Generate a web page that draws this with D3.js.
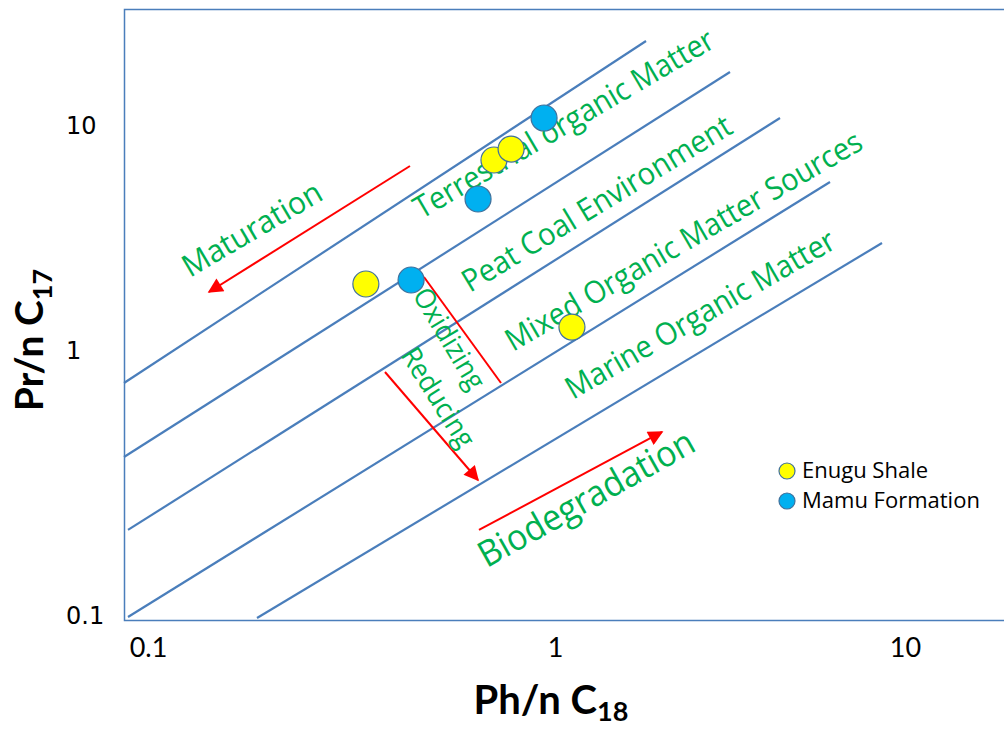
<!DOCTYPE html>
<html>
<head>
<meta charset="utf-8">
<script src="https://cdn.jsdelivr.net/npm/d3@7"></script>
<style>
  html, body { margin: 0; padding: 0; background: #ffffff; }
  svg { display: block; }
</style>
</head>
<body>
<svg id="chart" width="1004" height="729"></svg>
<script>
// Pristane/n-C17 versus Phytane/n-C18 source and environment diagram

// axis ticks (both axes are logarithmic)
const xTicks = [0.1, 1, 10];
const yTicks = [0.1, 1, 10];

// samples: Ph/n-C18 (x) and Pr/n-C17 (y)
const enuguShale = [
  { ph: 0.343, pr: 1.965 },
  { ph: 0.708, pr: 6.99 },
  { ph: 0.780, pr: 7.82 },
  { ph: 1.118, pr: 1.265 }
];
const mamuFormation = [
  { ph: 0.940, pr: 10.74 },
  { ph: 0.647, pr: 4.69 },
  { ph: 0.443, pr: 2.047 }
];

// field boundary lines, from (ph1, pr1) to (ph2, pr2)
const boundaryLines = [
  { ph1: 0.0873, pr1: 0.751,  ph2: 1.820, pr2: 23.63 },
  { ph1: 0.0873, pr1: 0.3947, ph2: 3.162, pr2: 17.20 },
  { ph1: 0.0893, pr1: 0.2094, ph2: 4.394, pr2: 10.74 },
  { ph1: 0.0893, pr1: 0.0983, ph2: 6.105, pr2: 5.580 },
  { ph1: 0.1853, pr1: 0.0974, ph2: 8.596, pr2: 2.989 }
];

// field and process labels, written along the baseline from (ph1, pr1) to (ph2, pr2)
const fieldLabels = [
  { text: "Terrestrial organic Matter",   ph1: 0.4700, pr1: 3.800,  ph2: 2.900, pr2: 22.4, size: 31 },
  { text: "Peat Coal Environment",        ph1: 0.6183, pr1: 1.790,  ph2: 3.260, pr2: 9.30, size: 31 },
  { text: "Mixed Organic Matter Sources", ph1: 0.7885, pr1: 0.9828, ph2: 7.686, pr2: 7.903, size: 31 },
  { text: "Marine Organic Matter",        ph1: 1.126,  pr1: 0.6477, ph2: 6.437, pr2: 2.869, size: 31 },
  { text: "Maturation",                   ph1: 0.1268, pr1: 2.089,  ph2: 0.2720, pr2: 4.700, size: 31 },
  { text: "Biodegradation",               ph1: 0.6800, pr1: 0.1500, ph2: 2.560, pr2: 0.4195, size: 36 },
  { text: "Oxidizing",                    ph1: 0.4452, pr1: 1.755,  ph2: 0.6183, pr2: 0.6942, size: 28 },
  { text: "Reducing",                     ph1: 0.4160, pr1: 0.9575, ph2: 0.5843, pr2: 0.4195, size: 28 }
];

// process arrows, from (ph1, pr1) to (ph2, pr2)
const processArrows = [
  { name: "Maturation",     ph1: 0.4402, pr1: 6.574,  ph2: 0.1412, pr2: 1.810,  head: true },
  { name: "Oxidizing",      ph1: 0.4765, pr1: 2.111,  ph2: 0.7367, pr2: 0.7509, head: false },
  { name: "Reducing",       ph1: 0.3822, pr1: 0.8260, ph2: 0.6468, pr2: 0.3231, head: true },
  { name: "Biodegradation", ph1: 0.6505, pr1: 0.2094, ph2: 2.022,  pr2: 0.4906, head: true }
];

const legendItems = [
  { name: "Enugu Shale",    color: "#ffff00" },
  { name: "Mamu Formation", color: "#00b0f0" }
];

const svg = d3.select("#chart");
const frame = { left: 124.5, top: 9.5, right: 1010, bottom: 620.5 };

const x = d3.scaleLog().domain([0.1, 1, 10]).range([148, 555, 905]);
const y = d3.scaleLog().domain([0.1, 1, 10]).range([615, 350, 125]);

const lineBlue = "#4a7ebb";
const green = "#00b050";
const red = "#ff0000";

// arrowhead
svg.append("defs").append("marker")
  .attr("id", "arrowhead")
  .attr("viewBox", "0 0 10 10")
  .attr("refX", 9).attr("refY", 5)
  .attr("markerUnits", "userSpaceOnUse")
  .attr("markerWidth", 18).attr("markerHeight", 15)
  .attr("orient", "auto")
  .append("path")
  .attr("d", "M0,0 L10,5 L0,10 Z")
  .attr("fill", red);

// plot frame
svg.append("rect")
  .attr("x", frame.left).attr("y", frame.top)
  .attr("width", frame.right - frame.left)
  .attr("height", frame.bottom - frame.top)
  .attr("fill", "none")
  .attr("stroke", lineBlue)
  .attr("stroke-width", 1.5);

// x axis labels
const xAxis = svg.append("g")
  .attr("transform", `translate(0,${frame.bottom})`)
  .call(d3.axisBottom(x).tickValues(xTicks).tickSize(0).tickPadding(0).tickFormat(d => String(d)));
xAxis.select(".domain").remove();
xAxis.selectAll("text")
  .attr("y", 36).attr("dy", null)
  .attr("font-family", "Lato, 'Open Sans', sans-serif")
  .attr("font-size", 27)
  .attr("fill", "#000");

// y axis labels (left aligned)
const yAxis = svg.append("g")
  .attr("transform", `translate(${frame.left},0)`)
  .call(d3.axisLeft(y).tickValues(yTicks).tickSize(0).tickFormat(d => String(d)));
yAxis.select(".domain").remove();
yAxis.selectAll("text")
  .attr("x", 66 - frame.left)
  .attr("dy", "0.36em")
  .attr("text-anchor", "start")
  .attr("font-family", "'DejaVu Sans', sans-serif")
  .attr("font-size", 24)
  .attr("fill", "#000");

// field boundary lines
svg.append("g").selectAll("line")
  .data(boundaryLines).join("line")
  .attr("x1", d => x(d.ph1)).attr("y1", d => y(d.pr1))
  .attr("x2", d => x(d.ph2)).attr("y2", d => y(d.pr2))
  .attr("stroke", lineBlue)
  .attr("stroke-width", 2.2);

// process arrows
svg.append("g").selectAll("line")
  .data(processArrows).join("line")
  .attr("x1", d => x(d.ph1)).attr("y1", d => y(d.pr1))
  .attr("x2", d => x(d.ph2)).attr("y2", d => y(d.pr2))
  .attr("stroke", red)
  .attr("stroke-width", 2)
  .attr("marker-end", d => d.head ? "url(#arrowhead)" : null);

// field / process labels
svg.append("g").selectAll("text")
  .data(fieldLabels).join("text")
  .attr("transform", d => {
    const x1 = x(d.ph1), y1 = y(d.pr1), x2 = x(d.ph2), y2 = y(d.pr2);
    const a = Math.atan2(y2 - y1, x2 - x1) * 180 / Math.PI;
    return `translate(${x1},${y1}) rotate(${a})`;
  })
  .attr("textLength", d => Math.hypot(x(d.ph2) - x(d.ph1), y(d.pr2) - y(d.pr1)))
  .attr("lengthAdjust", "spacingAndGlyphs")
  .attr("font-family", "'Open Sans', Lato, sans-serif")
  .attr("font-size", d => d.size)
  .attr("fill", green)
  .text(d => d.text);

// sample points
const points = svg.append("g");
points.selectAll("circle.enugu")
  .data(enuguShale).join("circle")
  .attr("class", "enugu")
  .attr("cx", d => x(d.ph)).attr("cy", d => y(d.pr)).attr("r", 13)
  .attr("fill", "#ffff00").attr("stroke", "#41719c").attr("stroke-width", 1.2);
points.selectAll("circle.mamu")
  .data(mamuFormation).join("circle")
  .attr("class", "mamu")
  .attr("cx", d => x(d.ph)).attr("cy", d => y(d.pr)).attr("r", 13)
  .attr("fill", "#00b0f0").attr("stroke", "#41719c").attr("stroke-width", 1.2);

// legend
const legend = svg.append("g").attr("transform", "translate(787,471)");
const li = legend.selectAll("g").data(legendItems).join("g")
  .attr("transform", (d, i) => `translate(0,${i * 30})`);
li.append("circle").attr("r", 8)
  .attr("fill", d => d.color).attr("stroke", "#41719c").attr("stroke-width", 1.2);
li.append("text")
  .attr("x", 15).attr("y", 7)
  .attr("font-family", "'Open Sans', Lato, sans-serif")
  .attr("font-size", 22)
  .attr("fill", "#000")
  .text(d => d.name);

// axis titles
const xTitle = svg.append("text")
  .attr("x", 551).attr("y", 714)
  .attr("text-anchor", "middle")
  .attr("font-family", "Lato, 'Open Sans', sans-serif")
  .attr("font-weight", "bold")
  .attr("font-size", 40)
  .attr("fill", "#000");
xTitle.append("tspan").text("Ph/n C");
xTitle.append("tspan").attr("dy", 7).attr("font-size", 27).text("18");

const yTitle = svg.append("text")
  .attr("transform", "translate(43,340) rotate(-90)")
  .attr("text-anchor", "middle")
  .attr("font-family", "Lato, 'Open Sans', sans-serif")
  .attr("font-weight", "bold")
  .attr("font-size", 39)
  .attr("fill", "#000");
yTitle.append("tspan").text("Pr/n C");
yTitle.append("tspan").attr("dy", 9).attr("font-size", 27).text("17");
</script>
</body>
</html>
